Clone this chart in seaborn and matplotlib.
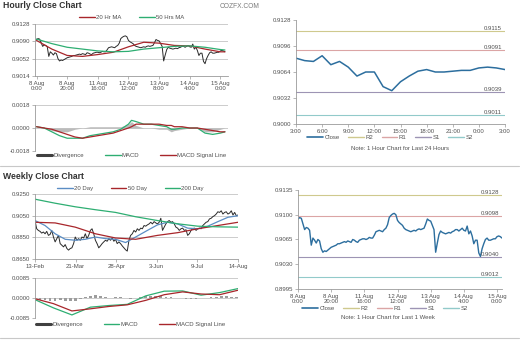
import numpy as np
import pandas as pd
import matplotlib
matplotlib.use("Agg")
import matplotlib.pyplot as plt
from matplotlib.lines import Line2D
import seaborn as sns

# ---------------- DATA ----------------
# hourly close, 8 Aug 0:00 .. 15 Aug 3:00 (trading hours)
hourly_close = [
    0.9094, 0.9096, 0.9095, 0.9087, 0.9079, 0.9082, 0.9081, 0.9078, 0.9057, 0.9067,
    0.9064, 0.9060, 0.9065, 0.9063, 0.9052, 0.9047, 0.9049, 0.9048, 0.9050, 0.9052,
    0.9054, 0.9055, 0.9056, 0.9057, 0.9059, 0.9059, 0.9060, 0.9061, 0.9062, 0.9061,
    0.9063, 0.9062, 0.9061, 0.9065, 0.9064, 0.9062, 0.9061, 0.9064, 0.9065, 0.9066,
    0.9066, 0.9065, 0.9066, 0.9068, 0.9067, 0.9067, 0.9071, 0.9076, 0.9077, 0.9078,
    0.9077, 0.9076, 0.9079, 0.9081, 0.9086, 0.9096, 0.9099, 0.9101, 0.9102, 0.9100,
    0.9092, 0.9089, 0.9087, 0.9085, 0.9081, 0.9079, 0.9078, 0.9077, 0.9076, 0.9077,
    0.9078, 0.9077, 0.9079, 0.9080, 0.9079, 0.9080, 0.9081, 0.9087, 0.9094, 0.9092,
    0.9091, 0.9085, 0.9079, 0.9047, 0.9060, 0.9072, 0.9077, 0.9075, 0.9074, 0.9073,
    0.9074, 0.9075, 0.9074, 0.9076, 0.9077, 0.9079, 0.9079, 0.9077, 0.9079,
    0.9081, 0.9078, 0.9077, 0.9084, 0.9073, 0.9077, 0.9070, 0.9059, 0.9064, 0.9064,
    0.9046, 0.9041, 0.9052, 0.9059, 0.9065, 0.9067, 0.9064, 0.9064, 0.9065, 0.9066,
    0.9066, 0.9069, 0.9070, 0.9069, 0.9067]
hourly_tick_pos = [0, 20, 40, 60, 80, 100, 120]
hourly_tick_labels = ["8 Aug\n0:00", "8 Aug\n20:00", "11 Aug\n16:00", "12 Aug\n12:00",
                      "13 Aug\n8:00", "14 Aug\n4:00", "15 Aug\n0:00"]
hourly_yticks = [0.9014, 0.9052, 0.9090, 0.9128]

ma_hours = [0, 10, 20, 30, 40, 50, 60, 70, 80, 90, 100, 110, 120, 123]
ma20_hr = [0.9092, 0.9073, 0.9059, 0.9057, 0.9061, 0.9066, 0.9078, 0.9088, 0.9086,
           0.9081, 0.9080, 0.9073, 0.9067, 0.9067]
ma50_hr = [0.9095, 0.9085, 0.9077, 0.9073, 0.9069, 0.9067, 0.9068, 0.9073, 0.9076,
           0.9079, 0.9080, 0.9077, 0.9072, 0.9071]

macd_hours = [0, 5, 10, 15, 20, 25, 30, 35, 40, 45, 50, 55, 60, 62, 65, 70, 75, 80,
              85, 88, 90, 95, 100, 105, 110, 115, 120, 123]
macd_hr = [0.0001, 0.0000, -0.0003, -0.0006, -0.0008, -0.0008, -0.0008, -0.0006,
           -0.0005, -0.0004, -0.0003, -0.0001, 0.0003, 0.0006, 0.0005, 0.0003, 0.0003,
           0.0002, 0.0001, -0.0001, -0.0001, 0.0000, 0.0000, 0.0000, -0.0004, -0.0005,
           -0.0004, -0.0003]
signal_hr = [0.0001, 0.0000, -0.0001, -0.0003, -0.0005, -0.0007, -0.0008, -0.0007,
             -0.0006, -0.0005, -0.0004, -0.0002, 0.0000, 0.0001, 0.0003, 0.0003, 0.0003,
             0.0003, 0.0002, 0.0002, 0.0001, 0.0001, 0.0000, 0.0000, -0.0001, -0.0002,
             -0.0003, -0.0003]
div_hr = [0.0000, 0.0000, -0.0002, -0.0003, -0.0003, -0.0001, 0.0000, 0.0001,
          0.0001, 0.0001, 0.0001, 0.0001, 0.0003, 0.0005, 0.0002, 0.0000, 0.0000,
          -0.0001, -0.0001, -0.0003, -0.0002, -0.0001, 0.0000, 0.0000, -0.0003, -0.0003,
          -0.0001, 0.0000]
macd_hr_yticks = [-0.0018, 0.0000, 0.0018]

# last 24 hours
day_tick_labels = ["3:00", "6:00", "9:00", "12:00", "15:00", "18:00", "21:00", "0:00", "3:00"]
day_yticks = [0.9000, 0.9032, 0.9064, 0.9096, 0.9128]
day_levels = {"R2": 0.9115, "R1": 0.9091, "S1": 0.9039, "S2": 0.9011}

week_yticks = [0.8995, 0.9030, 0.9065, 0.9100, 0.9135]
week_levels = {"R2": 0.9128, "R1": 0.9098, "S1": 0.9040, "S2": 0.9012}

# daily close, 13-Feb .. 14-Aug
daily_close = [
    0.9005, 0.8929, 0.8914, 0.8905, 0.8889, 0.8899, 0.8883, 0.8905, 0.8868, 0.8877,
    0.8914, 0.8853, 0.8808, 0.8838, 0.8868, 0.8792, 0.8777, 0.8762, 0.8783, 0.8747,
    0.8732, 0.8747, 0.8753, 0.8792, 0.8853, 0.8823, 0.8838, 0.8823, 0.8853, 0.8844,
    0.8883, 0.8838, 0.8868, 0.8914, 0.8929, 0.8883, 0.8823, 0.8792, 0.8753, 0.8771,
    0.8792, 0.8808, 0.8823, 0.8814, 0.8838, 0.8823, 0.8844, 0.8814, 0.8832, 0.8792,
    0.8808, 0.8792, 0.8771, 0.8753, 0.8735, 0.8723, 0.8823, 0.8868, 0.8883, 0.8914,
    0.8899, 0.8929, 0.8914, 0.8935, 0.8929, 0.8959, 0.8953, 0.8965, 0.8974, 0.8989,
    0.8974, 0.8995, 0.8983, 0.8974, 0.8989, 0.9026, 0.8914, 0.8944, 0.8974, 0.8995,
    0.9005, 0.8989, 0.8995, 0.8974, 0.8944, 0.8935, 0.8914, 0.8929, 0.8935, 0.8914,
    0.8920, 0.8868, 0.8883, 0.8914, 0.8929, 0.8935, 0.8914, 0.8929, 0.8935, 0.8929,
    0.8959, 0.8974, 0.8989, 0.8995, 0.9020, 0.9026, 0.9041, 0.9050, 0.9065, 0.9086,
    0.9080, 0.9095, 0.9065, 0.9080, 0.9086, 0.9065, 0.9074, 0.9095, 0.9056, 0.9080,
    0.9050, 0.9056]
daily_tick_labels = ["13-Feb", "21-Mar", "28-Apr", "3-Jun", "9-Jul", "14-Aug"]
daily_yticks = [0.8650, 0.8850, 0.9050, 0.9250]

ma_days = [0, 12, 24, 36, 48, 60, 73, 85, 97, 109, 121]
ma200_d = [0.9202, 0.9165, 0.9132, 0.9105, 0.9080, 0.9040, 0.9005, 0.8975, 0.8953, 0.8947, 0.8944]
ma50_d = [0.8989, 0.8983, 0.8944, 0.8883, 0.8844, 0.8832, 0.8868, 0.8893, 0.8929, 0.8959, 0.8989]
ma20_days = [0, 6, 12, 18, 24, 30, 36, 42, 48, 54, 60, 67, 73, 79, 85, 91, 97, 103, 109, 115, 121]
ma20_d = [0.9005, 0.8959, 0.8883, 0.8832, 0.8823, 0.8832, 0.8853, 0.8838, 0.8832, 0.8802,
          0.8853, 0.8914, 0.8965, 0.8989, 0.8974, 0.8935, 0.8929, 0.8953, 0.8995, 0.9035, 0.9050]

macd_days = [0, 11, 22, 33, 44, 55, 66, 77, 88, 99, 110, 121]
macd_d = [-0.0007, -0.0042, -0.0072, -0.0039, -0.0032, -0.0027, 0.0009, 0.0029,
          0.0030, 0.0012, 0.0023, 0.0040]
signal_d = [-0.0003, -0.0024, -0.0055, -0.0046, -0.0036, -0.0029, -0.0010, 0.0014,
            0.0026, 0.0017, 0.0014, 0.0033]
div_days = list(range(0, 121, 3))
div_d = [-0.0003, -0.0008, -0.0010, -0.0012, -0.0012, -0.0010, -0.0012, -0.0014, -0.0012,
         -0.0004, 0.0004, 0.0008, 0.0012, 0.0010, 0.0006, 0.0002, 0.0004, 0.0003, 0.0002,
         -0.0003, 0.0002, 0.0005, 0.0008, 0.0010, 0.0009, 0.0008, 0.0006, 0.0004, 0.0002,
         -0.0002, -0.0004, -0.0005, -0.0004, -0.0002, 0.0002, 0.0003, 0.0005, 0.0007,
         0.0008, 0.0006, 0.0003]
macd_d_yticks = [-0.0085, 0.0000, 0.0085]

# ---------------- STYLE ----------------
sns.set_theme(style="white")
plt.rcParams['font.family'] = ['Liberation Sans', 'DejaVu Sans']

C_GRID = '#C4C4C4'
C_AX = '#9A9A9A'
C_TXT = '#505050'
C_BLACK = '#2A2A2A'
C_RED = '#A8262B'
C_GREEN = '#2EAE72'
C_BLUE = '#5B8DC4'
C_CLOSE = '#2C6E9E'
C_R2 = '#CFC98E'
C_R1 = '#DBA5A5'
C_S1 = '#9D94B4'
C_S2 = '#92CACA'
FS = 4.3

W, H = 523, 340
fig = plt.figure(figsize=(W / 100, H / 100), dpi=100)
fig.patch.set_facecolor('white')


def add_ax(x0, y0, x1, y1):
    return fig.add_axes([x0 / W, 1 - y1 / H, (x1 - x0) / W, (y1 - y0) / H])


def style(ax, grid=True, bottom=True):
    for s in ['top', 'right']:
        ax.spines[s].set_visible(False)
    for s in ['left', 'bottom']:
        ax.spines[s].set_color(C_AX)
        ax.spines[s].set_linewidth(0.6)
    ax.spines['bottom'].set_visible(bottom)
    ax.tick_params(axis='both', labelsize=FS, colors=C_AX, labelcolor=C_TXT,
                   length=2, width=0.5, pad=1.5, left=True, bottom=bottom)
    if grid:
        ax.yaxis.grid(True, color=C_GRID, lw=0.6)
        ax.set_axisbelow(True)
    ax.set_xlabel('')
    ax.set_ylabel('')


def fmt4(ax, ticks):
    ax.set_yticks(ticks)
    ax.set_yticklabels([f"{t:.4f}" for t in ticks])


def small_legend(ax, handles, labels, anchor, loc, colsp=2.5):
    leg = ax.legend(handles, labels, loc=loc, bbox_to_anchor=anchor, ncol=len(handles),
                    frameon=False, fontsize=FS, handlelength=2.6, handletextpad=0.2,
                    columnspacing=colsp, borderaxespad=0, borderpad=0)
    for t in leg.get_texts():
        t.set_color(C_TXT)
    return leg


hx = np.arange(len(hourly_close))
dx = np.arange(len(daily_close))

# ---------------- HOURLY PRICE (top-left) ----------------
ax1 = add_ax(35, 24, 228, 76)
sns.lineplot(x=hx, y=hourly_close, ax=ax1, color=C_BLACK, lw=0.7)
sns.lineplot(x=ma_hours, y=ma20_hr, ax=ax1, color=C_RED, lw=0.9)
sns.lineplot(x=ma_hours, y=ma50_hr, ax=ax1, color=C_GREEN, lw=0.9)
ax1.set_ylim(hourly_yticks[0], hourly_yticks[-1])
ax1.set_xlim(-1, 125)
fmt4(ax1, hourly_yticks)
ax1.set_xticks(hourly_tick_pos)
ax1.set_xticklabels(hourly_tick_labels, linespacing=1.1)
style(ax1)
small_legend(ax1, [Line2D([], [], color=C_RED, lw=1), Line2D([], [], color=C_GREEN, lw=1)],
             ["20 Hr MA", "50 Hrs MA"], (0.5, 1.08), 'lower center', colsp=3)

# ---------------- HOURLY MACD ----------------
ax2 = add_ax(35, 105, 228, 151)
ax2.fill_between(macd_hours, 0, div_hr, color='#B4B4B4', lw=0, alpha=0.9)
sns.lineplot(x=macd_hours, y=macd_hr, ax=ax2, color=C_GREEN, lw=0.9)
sns.lineplot(x=macd_hours, y=signal_hr, ax=ax2, color=C_RED, lw=0.9)
ax2.set_ylim(macd_hr_yticks[0], macd_hr_yticks[-1])
ax2.set_xlim(-1, 125)
fmt4(ax2, macd_hr_yticks)
ax2.set_xticks([])
style(ax2, bottom=False)
small_legend(ax2, [Line2D([], [], color='#404040', lw=2.2), Line2D([], [], color=C_GREEN, lw=1),
                   Line2D([], [], color=C_RED, lw=1)],
             ["Divergence", "MACD", "MACD Signal Line"], (0.5, -0.04), 'upper center', colsp=3.5)

# ---------------- LAST 24 HOURS (top-right) ----------------
ax3 = add_ax(296, 20, 505, 124)
last24 = hourly_close[-25:]
lvl_colors = {"R2": C_R2, "R1": C_R1, "S1": C_S1, "S2": C_S2}
for k, v in day_levels.items():
    ax3.axhline(v, color=lvl_colors[k], lw=0.8)
    ax3.text(0.985, v, f"{v:.4f}", transform=ax3.get_yaxis_transform(), ha='right',
             va='bottom', fontsize=FS, color=C_TXT)
sns.lineplot(x=np.arange(len(last24)), y=last24, ax=ax3, color=C_CLOSE, lw=1.1)
ax3.set_ylim(day_yticks[0], day_yticks[-1])
ax3.set_xlim(0, 24)
fmt4(ax3, day_yticks)
ax3.set_xticks(np.arange(0, 25, 3))
ax3.set_xticklabels(day_tick_labels)
style(ax3, grid=False)
lv_handles = [Line2D([], [], color=C_CLOSE, lw=1.2)] + \
    [Line2D([], [], color=lvl_colors[k], lw=1) for k in day_levels]
lv_labels = ["Close"] + list(day_levels.keys())
leg3 = fig.legend(lv_handles, lv_labels, loc='center', bbox_to_anchor=(390 / W, 1 - 137.5 / H),
                  ncol=5, frameon=False, fontsize=FS, handlelength=2.6, handletextpad=0.3,
                  columnspacing=1.4, borderpad=0)
for t in leg3.get_texts():
    t.set_color(C_TXT)
fig.text(400 / W, 1 - 148 / H, "Note: 1 Hour Chart for Last 24 Hours", ha='center', va='center',
         fontsize=FS, color=C_TXT)

# ---------------- DAILY PRICE (bottom-left) ----------------
ax4 = add_ax(35, 194, 238, 259)
sns.lineplot(x=dx, y=daily_close, ax=ax4, color=C_BLACK, lw=0.7)
sns.lineplot(x=ma20_days, y=ma20_d, ax=ax4, color=C_BLUE, lw=0.9)
sns.lineplot(x=ma_days, y=ma50_d, ax=ax4, color=C_RED, lw=0.9)
sns.lineplot(x=ma_days, y=ma200_d, ax=ax4, color=C_GREEN, lw=0.9)
ax4.set_ylim(daily_yticks[0], daily_yticks[-1])
ax4.set_xlim(0, len(daily_close) - 1)
fmt4(ax4, daily_yticks)
ax4.set_xticks(np.linspace(0, len(daily_close) - 1, len(daily_tick_labels)))
ax4.set_xticklabels(daily_tick_labels)
style(ax4)
small_legend(ax4, [Line2D([], [], color=C_BLUE, lw=1), Line2D([], [], color=C_RED, lw=1),
                   Line2D([], [], color=C_GREEN, lw=1)],
             ["20 Day", "50 Day", "200 Day"], (0.47, 1.04), 'lower center', colsp=3)

# ---------------- DAILY MACD ----------------
ax5 = add_ax(35, 278, 238, 318)
ax5.bar(div_days, div_d, width=1.6, color='#9C9C9C', edgecolor='none')
sns.lineplot(x=macd_days, y=macd_d, ax=ax5, color=C_GREEN, lw=0.9)
sns.lineplot(x=macd_days, y=signal_d, ax=ax5, color=C_RED, lw=0.9)
ax5.set_ylim(macd_d_yticks[0], macd_d_yticks[-1])
ax5.set_xlim(0, len(daily_close) - 1)
fmt4(ax5, macd_d_yticks)
ax5.set_xticks([])
style(ax5, bottom=False)
small_legend(ax5, [Line2D([], [], color='#404040', lw=2.2), Line2D([], [], color=C_GREEN, lw=1),
                   Line2D([], [], color=C_RED, lw=1)],
             ["Divergence", "MACD", "MACD Signal Line"], (0.47, -0.1), 'upper center', colsp=3.5)

# ---------------- LAST WEEK (bottom-right) ----------------
ax6 = add_ax(298, 190, 502, 289)
for k, v in week_levels.items():
    ax6.axhline(v, color=lvl_colors[k], lw=0.8)
    ax6.text(0.985, v, f"{v:.4f}", transform=ax6.get_yaxis_transform(), ha='right',
             va='bottom', fontsize=FS, color=C_TXT)
sns.lineplot(x=hx, y=hourly_close, ax=ax6, color=C_CLOSE, lw=1.0)
ax6.set_ylim(week_yticks[0], week_yticks[-1])
ax6.set_xlim(0, len(hourly_close) - 1)
fmt4(ax6, week_yticks)
ax6.set_xticks(hourly_tick_pos)
ax6.set_xticklabels(hourly_tick_labels, linespacing=1.1)
style(ax6, grid=False)
leg6 = fig.legend(lv_handles, lv_labels, loc='center', bbox_to_anchor=(385 / W, 1 - 308 / H),
                  ncol=5, frameon=False, fontsize=FS, handlelength=2.6, handletextpad=0.3,
                  columnspacing=1.4, borderpad=0)
for t in leg6.get_texts():
    t.set_color(C_TXT)
fig.text(388 / W, 1 - 317.5 / H, "Note: 1 Hour Chart for Last 1 Week", ha='center', va='center',
         fontsize=FS, color=C_TXT)

# ---------------- TITLES / DECOR ----------------
fig.text(3 / W, 1 - 6 / H, "Hourly Close Chart", ha='left', va='center', fontsize=6.2,
         fontweight='bold', color='#333333')
fig.text(3 / W, 1 - 176 / H, "Weekly Close Chart", ha='left', va='center', fontsize=6.2,
         fontweight='bold', color='#333333')
fig.text(240 / W, 1 - 7 / H, "COZFX.COM", ha='center', va='center', fontsize=4.8,
         color='#7A7A7A')
for yy in (166, 338):
    fig.add_artist(Line2D([0, 519 / W], [1 - yy / H] * 2, transform=fig.transFigure,
                          color='#C8C8C8', lw=0.8))

fig.savefig("out.png", dpi=100, facecolor='white')
